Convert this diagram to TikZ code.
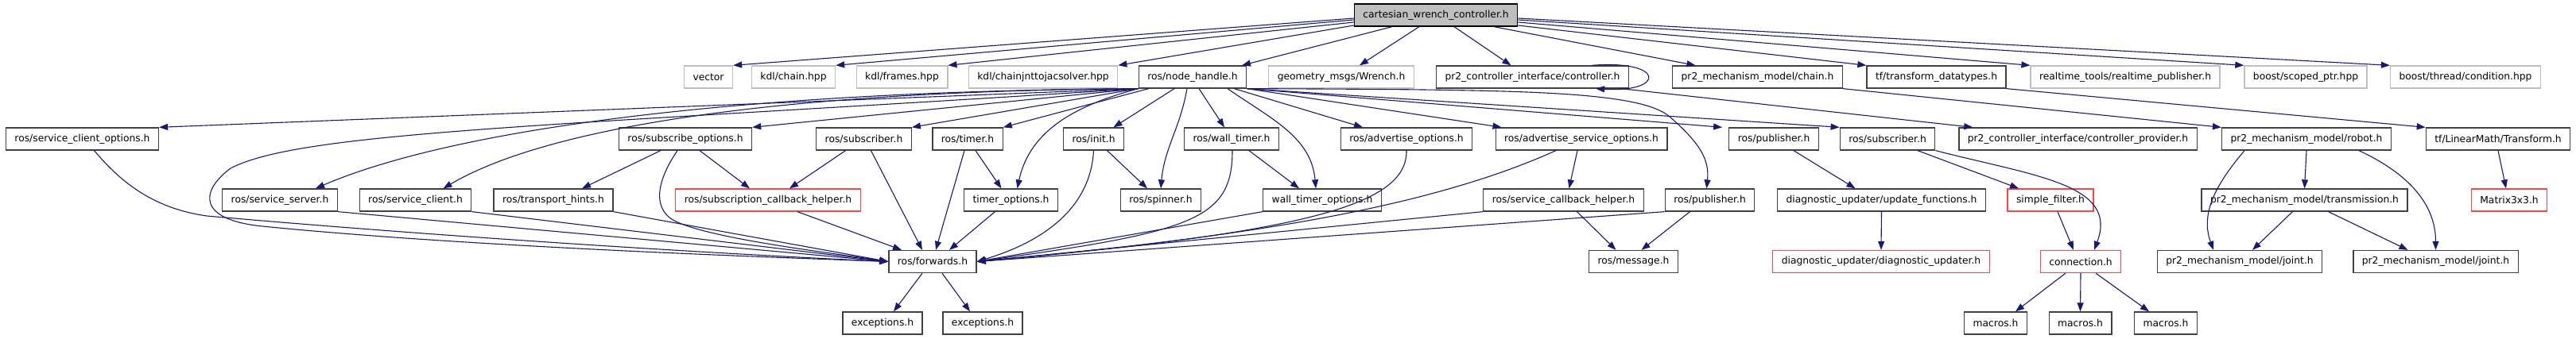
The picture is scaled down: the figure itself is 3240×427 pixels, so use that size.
\documentclass[tikz,border=0pt]{standalone}
\usepackage{fontspec}
\setmainfont{DejaVu Sans}
\usetikzlibrary{shapes,arrows,arrows.meta}

\definecolor{edgeblue}{HTML}{191970}
\definecolor{boxgray}{HTML}{BFBFBF}
\definecolor{boxred}{HTML}{FF4545}
\definecolor{boxdark}{HTML}{404040}

\begin{document}
\begin{tikzpicture}[x=1pt, y=1pt,
        hfile/.style={draw=boxdark, line width=1.3pt, rectangle, minimum height=28pt,
                inner xsep=11pt, inner ysep=0pt, font=\fontsize{12.3}{14}\selectfont},
        sysfile/.style={hfile, draw=boxgray},
        cutfile/.style={hfile, draw=boxred},
        topfile/.style={hfile, draw=black, fill=boxgray},
        dep/.style={draw=edgeblue, line width=1.1pt, -{Triangle[length=11pt,width=8pt]}}]
        \useasboundingbox (0,0) rectangle (3240,427);

        % Row 1
        \node [topfile] (root) at (1806, 408) {cartesian\_wrench\_controller.h};

        % Row 2
        \node [sysfile] (vec) at (891, 330) {vector};
        \node [sysfile] (kchain) at (998, 330) {kdl/chain.hpp};
        \node [sysfile] (kframes) at (1134.5, 330) {kdl/frames.hpp};
        \node [sysfile] (kjac) at (1312, 330) {kdl/chainjnttojacsolver.hpp};
        \node [hfile] (nh) at (1500, 330) {ros/node\_handle.h};
        \node [sysfile] (wrench) at (1687, 330) {geometry\_msgs/Wrench.h};
        \node [hfile] (ctrl) at (1927.5, 330) {pr2\_controller\_interface/controller.h};
        \node [hfile] (mchain) at (2210.5, 330) {pr2\_mechanism\_model/chain.h};
        \node [hfile] (tfdt) at (2435.5, 330) {tf/transform\_datatypes.h};
        \node [sysfile] (rtpub) at (2673, 330) {realtime\_tools/realtime\_publisher.h};
        \node [sysfile] (scoped) at (2900, 330) {boost/scoped\_ptr.hpp};
        \node [sysfile] (cond) at (3101, 330) {boost/thread/condition.hpp};

        % Row 3
        \node [hfile] (sco) at (103.5, 252) {ros/service\_client\_options.h};
        \node [hfile] (subopt) at (862, 252) {ros/subscribe\_options.h};
        \node [hfile] (sub1) at (1086.5, 252) {ros/subscriber.h};
        \node [hfile] (timer) at (1217, 252) {ros/timer.h};
        \node [hfile] (init) at (1375.5, 252) {ros/init.h};
        \node [hfile] (wtimer) at (1549, 252) {ros/wall\_timer.h};
        \node [hfile] (advopt) at (1769, 252) {ros/advertise\_options.h};
        \node [hfile] (advsrv) at (1989, 252) {ros/advertise\_service\_options.h};
        \node [hfile] (pub1) at (2231, 252) {ros/publisher.h};
        \node [hfile] (sub2) at (2374, 252) {ros/subscriber.h};
        \node [hfile] (cprov) at (2613.5, 252) {pr2\_controller\_interface/controller\_provider.h};
        \node [hfile] (robot) at (2901, 252) {pr2\_mechanism\_model/robot.h};
        \node [hfile] (tftr) at (3142, 252) {tf/LinearMath/Transform.h};

        % Row 4
        \node [hfile] (ssrv) at (352, 175) {ros/service\_server.h};
        \node [hfile] (scli) at (522.5, 175) {ros/service\_client.h};
        \node [hfile] (thints) at (696, 175) {ros/transport\_hints.h};
        \node [cutfile] (scbh) at (966, 175) {ros/subscription\_callback\_helper.h};
        \node [hfile] (topt) at (1271.5, 175) {timer\_options.h};
        \node [hfile] (spin) at (1460, 175) {ros/spinner.h};
        \node [hfile] (wtopt) at (1663, 175) {wall\_timer\_options.h};
        \node [hfile] (svcbh) at (1966.5, 175) {ros/service\_callback\_helper.h};
        \node [hfile] (pub2) at (2150.5, 175) {ros/publisher.h};
        \node [hfile] (updf) at (2366.5, 175) {diagnostic\_updater/update\_functions.h};
        \node [cutfile] (sfilt) at (2579, 175) {simple\_filter.h};
        \node [hfile] (trans) at (2898.5, 175) {pr2\_mechanism\_model/transmission.h};
        \node [cutfile] (m33) at (3156, 175) {Matrix3x3.h};

        % Row 5
        \node [hfile] (fwd) at (1173, 97.5) {ros/forwards.h};
        \node [hfile] (msg) at (2054.5, 97.5) {ros/message.h};
        \node [cutfile] (dupd) at (2366, 97.5) {diagnostic\_updater/diagnostic\_updater.h};
        \node [cutfile] (conn) at (2617, 97.5) {connection.h};
        \node [hfile] (joint1) at (2817, 97.5) {pr2\_mechanism\_model/joint.h};
        \node [hfile] (joint2) at (3063.5, 97.5) {pr2\_mechanism\_model/joint.h};

        % Row 6
        \node [hfile] (exc1) at (1110, 20) {exceptions.h};
        \node [hfile] (exc2) at (1236, 20) {exceptions.h};
        \node [hfile] (mac1) at (2510, 20) {macros.h};
        \node [hfile] (mac2) at (2616.5, 20) {macros.h};
        \node [hfile] (mac3) at (2724, 20) {macros.h};

        % Includes of the controller header
        \draw [dep] ([yshift=-4]root.west) -- (vec.north east);
        \draw [dep] ([yshift=-6]root.west) -- (kchain.north east);
        \draw [dep] ([yshift=-9]root.west) -- (kframes.north east);
        \draw [dep] ([yshift=-13]root.west) -- (kjac.north east);
        \draw [dep] ([xshift=-55]root.south) -- ([xshift=62]nh.north);
        \draw [dep] ([xshift=-21]root.south) -- ([xshift=23]wrench.north);
        \draw [dep] ([xshift=23]root.south) -- ([xshift=-27]ctrl.north);
        \draw [dep] ([xshift=73]root.south) -- ([xshift=-78]mchain.north);
        \draw [dep] ([yshift=-13]root.east) -- (tfdt.north west);
        \draw [dep] ([yshift=-9]root.east) -- (rtpub.north west);
        \draw [dep] ([yshift=-6]root.east) -- (scoped.north west);
        \draw [dep] ([yshift=-4]root.east) -- (cond.north west);

        % Second level
        \draw [dep] ([xshift=-47]ctrl.north east) .. controls (2095, 352) and (2095, 310) .. ([xshift=-42]ctrl.south east);
        \draw [dep] ([xshift=-10]ctrl.south east) -- ([xshift=18]cprov.north west);
        \draw [dep] (mchain.south east) -- (robot.north west);
        \draw [dep] (tfdt.south east) -- (tftr.north west);

        % ros/node_handle.h
        \draw [dep] (nh.south west) -- (sco.north east);
        \draw [dep] (nh.south west) .. controls (700, 268) and (380, 262) .. (290, 215)
                .. controls (250, 185) and (250, 150) .. (330, 142)
                .. controls (600, 115) and (1000, 102) .. (fwd.west);
        \draw [dep] (nh.south west) .. controls (900, 312) and (560, 260) .. ([xshift=45]ssrv.north);
        \draw [dep] (nh.south west) .. controls (950, 312) and (680, 262) .. ([xshift=35]scli.north);
        \draw [dep] (nh.south west) -- (subopt.north east);
        \draw [dep] (nh.south west) -- (sub1.north east);
        \draw [dep] ([xshift=13]nh.south west) -- (timer.north east);
        \draw [dep] (nh.south west) to [out=195, in=78] ([xshift=8]topt.north);
        \draw [dep] ([xshift=-23]nh.south) -- ([xshift=25]init.north);
        \draw [dep] ([xshift=-7]nh.south) to [out=-100, in=85] (spin.north);
        \draw [dep] ([xshift=8]nh.south) -- ([xshift=-9]wtimer.north);
        \draw [dep] ([xshift=44]nh.south) to [out=-35, in=95] ([xshift=-8]wtopt.north);
        \draw [dep] ([xshift=-16]nh.south east) -- ([xshift=-55]advopt.north);
        \draw [dep] (nh.south east) -- ([xshift=8]advsrv.north west);
        \draw [dep] (nh.south east) -- ([xshift=-8]pub1.north west);
        \draw [dep] (nh.south east) -- (sub2.north west);
        \draw [dep] (nh.south east) .. controls (1900, 314) and (2060, 314) .. (2100, 280)
                .. controls (2140, 245) and (2150, 225) .. ([xshift=-4]pub2.north);

        % Third level
        \draw [dep] ([xshift=15]sco.south) .. controls (150, 200) and (190, 165) .. (260, 155)
                .. controls (600, 125) and (950, 105) .. (fwd.west);
        \draw [dep] ([xshift=-31]subopt.south) -- ([xshift=36]thints.north);
        \draw [dep] ([xshift=18]subopt.south) -- ([xshift=-23]scbh.north);
        \draw [dep] ([xshift=-10]subopt.south) .. controls (820, 190) and (825, 160) .. (850, 148)
                .. controls (900, 125) and (1050, 108) .. (fwd.west);
        \draw [dep] ([xshift=-23]sub1.south) -- ([xshift=27]scbh.north);
        \draw [dep] ([xshift=9]sub1.south) -- ([xshift=-13]fwd.north);
        \draw [dep] ([xshift=-4]timer.south) -- ([xshift=4]fwd.north);
        \draw [dep] ([xshift=10]timer.south) -- ([xshift=-12]topt.north);
        \draw [dep] ([xshift=17]init.south) -- ([xshift=-17]spin.north);
        \draw [dep] (init.south) .. controls (1372, 170) and (1320, 125) .. (fwd.east);
        \draw [dep] ([xshift=22]wtimer.south) -- ([xshift=-29]wtopt.north);
        \draw [dep] ([xshift=1]wtimer.south) .. controls (1550, 150) and (1500, 135) .. (fwd.east);
        \draw [dep] (advopt.south) .. controls (1770, 170) and (1650, 135) .. (fwd.east);
        \draw [dep] ([xshift=-5]advsrv.south) -- ([xshift=7]svcbh.north);
        \draw [dep] ([xshift=-32]advsrv.south) .. controls (1790, 162) and (1550, 127) .. (fwd.east);
        \draw [dep] ([xshift=25]pub1.south) -- ([xshift=-33]updf.north);
        \draw [dep] ([xshift=38]sub2.south) -- ([xshift=-40]sfilt.north);
        \draw [dep] (sub2.south east) .. controls (2560, 205) and (2665, 195) .. ([xshift=17]conn.north);
        \draw [dep] ([xshift=-78]robot.south) to [out=-130, in=110] ([xshift=-33]joint1.north);
        \draw [dep] (robot.south) -- (trans.north);
        \draw [dep] ([xshift=66]robot.south) to [out=-25, in=90] (joint2.north);
        \draw [dep] (tftr.south) -- ([xshift=-4]m33.north);

        % Fourth level
        \draw [dep] (ssrv.south east) -- (fwd.west);
        \draw [dep] (scli.south east) -- (fwd.west);
        \draw [dep] (thints.south east) -- (fwd.west);
        \draw [dep] ([xshift=37]scbh.south) -- ([xshift=-39]fwd.north);
        \draw [dep] ([xshift=-20]topt.south) -- ([xshift=21]fwd.north);
        \draw [dep] (wtopt.south west) -- (fwd.east);
        \draw [dep] (svcbh.south west) -- (fwd.east);
        \draw [dep] ([xshift=17]svcbh.south) -- ([xshift=-22]msg.north);
        \draw [dep] (pub2.south west) -- (fwd.east);
        \draw [dep] ([xshift=-25]pub2.south) -- ([xshift=10]msg.north);
        \draw [dep] (updf.south) -- (dupd.north);
        \draw [dep] ([xshift=9]sfilt.south) -- ([xshift=-9]conn.north);
        \draw [dep] ([xshift=-15]trans.south) -- ([xshift=16]joint1.north);
        \draw [dep] ([xshift=30]trans.south) -- ([xshift=-35]joint2.north);

        % Bottom row
        \draw [dep] ([xshift=-13]fwd.south) -- ([xshift=14]exc1.north);
        \draw [dep] ([xshift=12]fwd.south) -- ([xshift=-16]exc2.north);
        \draw [dep] ([xshift=-19]conn.south) -- ([xshift=25]mac1.north);
        \draw [dep] (conn.south) -- (mac2.north);
        \draw [dep] ([xshift=19]conn.south) -- ([xshift=-21]mac3.north);
\end{tikzpicture}
\end{document}
